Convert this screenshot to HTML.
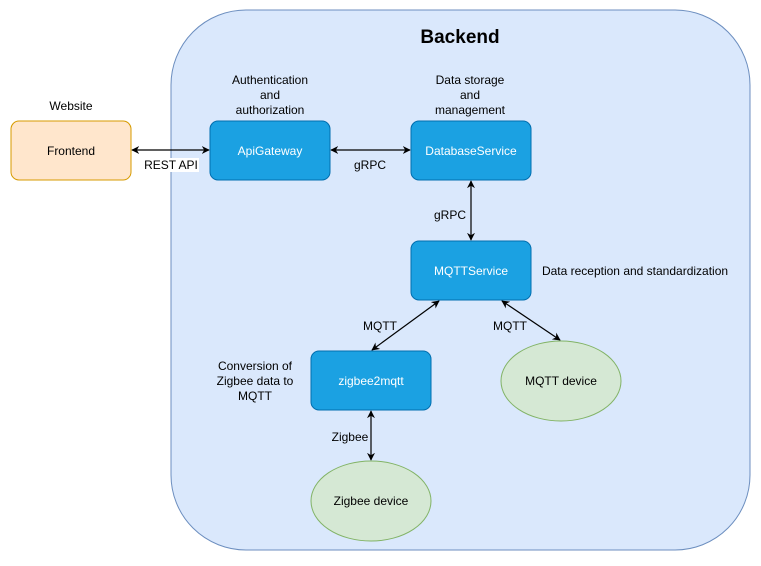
<!DOCTYPE html>
<html><head><meta charset="utf-8"><style>
html,body{margin:0;padding:0;background:#fff;}
</style></head><body>
<svg width="761" height="561" xmlns="http://www.w3.org/2000/svg" font-family="Liberation Sans, Arial, sans-serif">
<defs>
<marker id="a" viewBox="0 0 10 10" refX="9" refY="5" markerWidth="8" markerHeight="8" orient="auto-start-reverse" markerUnits="userSpaceOnUse">
<path d="M0,0 L10,5 L0,10 L3,5 z" fill="#000"/>
</marker>
</defs>
<rect x="171" y="10" width="579" height="540" rx="75" fill="#dae8fc" stroke="#6c8ebf"/>
<text x="460" y="43" font-size="19" font-weight="bold" text-anchor="middle">Backend</text>
<g font-size="12" text-anchor="middle">
<text x="71" y="110">Website</text>
<text x="270" y="84">Authentication</text><text x="270" y="99">and</text><text x="270" y="114">authorization</text>
<text x="470" y="84">Data storage</text><text x="470" y="99">and</text><text x="470" y="114">management</text>
<text x="635" y="275">Data reception and standardization</text>
<text x="255" y="370">Conversion of</text><text x="255" y="385">Zigbee data to</text><text x="255" y="400">MQTT</text>
</g>
<rect x="11" y="121" width="120" height="59" rx="8" fill="#ffe6cc" stroke="#d79b00"/>
<text x="71" y="155" font-size="12" text-anchor="middle">Frontend</text>
<g fill="#1ba1e2" stroke="#006eaf">
<rect x="210" y="121" width="120" height="59" rx="8"/>
<rect x="411" y="121" width="120" height="59" rx="8"/>
<rect x="411" y="241" width="120" height="59" rx="8"/>
<rect x="311" y="351" width="120" height="59" rx="8"/>
</g>
<g fill="#fff" font-size="12" text-anchor="middle">
<text x="270" y="155">ApiGateway</text>
<text x="471" y="155">DatabaseService</text>
<text x="471" y="275">MQTTService</text>
<text x="371" y="385">zigbee2mqtt</text>
</g>
<ellipse cx="561" cy="381" rx="60" ry="40" fill="#d5e8d4" stroke="#82b366"/>
<ellipse cx="371" cy="501" rx="60" ry="40" fill="#d5e8d4" stroke="#82b366"/>
<g font-size="12" text-anchor="middle">
<text x="561" y="385">MQTT device</text>
<text x="371" y="505">Zigbee device</text>
</g>
<g stroke="#000" stroke-width="1.2" marker-start="url(#a)" marker-end="url(#a)">
<line x1="132" y1="150" x2="209" y2="150"/>
<line x1="331" y1="150" x2="410" y2="150"/>
<line x1="471" y1="181" x2="471" y2="240"/>
<line x1="439" y1="301" x2="372" y2="350"/>
<line x1="502" y1="301" x2="560" y2="340"/>
<line x1="371" y1="411" x2="371" y2="460"/>
</g>
<g font-size="12" text-anchor="middle">
<rect x="143" y="158" width="56" height="14" fill="#fff"/>
<text x="171" y="169">REST API</text>
<text x="370" y="169">gRPC</text>
<text x="450" y="219">gRPC</text>
<text x="380" y="330">MQTT</text>
<text x="510" y="330">MQTT</text>
<text x="350" y="441">Zigbee</text>
</g>
</svg>
</body></html>
